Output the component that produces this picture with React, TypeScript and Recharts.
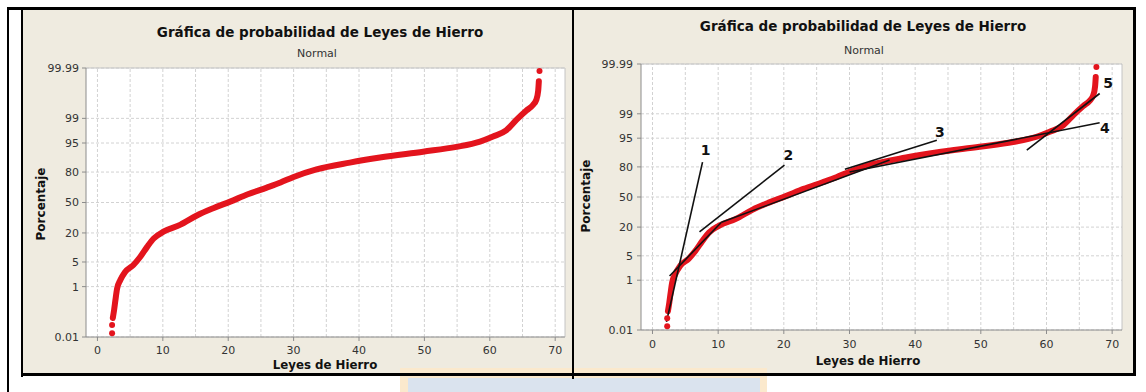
import React from 'react';
import {
  ComposedChart,
  Line,
  Scatter,
  XAxis,
  YAxis,
  CartesianGrid,
  ReferenceLine,
} from 'recharts';

// Curva acumulada de leyes de hierro (tramo continuo)
const leyesBanda = [2.35, 2.55, 2.75, 3.0, 3.5, 4.2, 5.5, 6.5, 7.6, 8.6, 10.1, 12.7, 15.2, 17.8, 20.3, 23.0, 25.9, 28.0, 30.0, 33.5, 38.6, 43.2, 49.8, 54.9, 58.5, 60.5, 62.5, 64.1, 65.6, 66.6, 67.1, 67.4, 67.5];
const pctBanda = [0.07, 0.15, 0.35, 0.85, 1.6, 2.7, 4.2, 6.5, 11, 16, 21, 27, 36, 44, 51, 59, 66, 71, 76, 82, 86.5, 89.3, 92, 93.8, 95.4, 96.6, 97.7, 98.9, 99.45, 99.65, 99.77, 99.9, 99.96];

// Puntos aislados en los extremos de la distribución
const leyesSueltas = [2.24, 2.24, 67.6];
const pctSueltas = [0.015, 0.035, 99.986];

// Escalas
const xTicks = [0, 10, 20, 30, 40, 50, 60, 70];
const xGrid = [0, 5, 10, 15, 20, 25, 30, 35, 40, 45, 50, 55, 60, 65, 70];
const yTicksPct = [0.01, 1, 5, 20, 50, 80, 95, 99, 99.99];
const yTickTexto = ['0.01', '1', '5', '20', '50', '80', '95', '99', '99.99'];

// Rectas tangentes por tramos (ley, porcentaje) inicio -> fin
const tramoLeyIni = [2.13, 2.6, 7.16, 10.5, 29.3, 30.0, 57.0];
const tramoPctIni = [0.024, 1.36, 16.4, 24, 78.2, 75.8, 90.5];
const tramoLeyFin = [7.62, 10.5, 20.1, 36.1, 43.3, 68.1, 68.1];
const tramoPctFin = [83.5, 24, 81.4, 84.9, 94.4, 98.1, 99.81];

// Números de tramo
const etiquetas = ['1', '2', '3', '4', '5'];
const etiquetaLey = [8.1, 20.7, 43.75, 68.9, 69.4];
const etiquetaPct = [90.5, 87.9, 96.5, 97.3, 99.93];

// Inversa de la normal estándar (escala de probabilidad)
function probit(p: number): number {
  const a = [-3.969683028665376e1, 2.209460984245205e2, -2.759285104469687e2, 1.38357751867269e2, -3.066479806614716e1, 2.506628277459239];
  const b = [-5.447609879822406e1, 1.615858368580409e2, -1.556989798598866e2, 6.680131188771972e1, -1.328068155288572e1];
  const c = [-7.784894002430293e-3, -3.223964580411365e-1, -2.400758277161838, -2.549732539343734, 4.374664141464968, 2.938163982698783];
  const d = [7.784695709041462e-3, 3.224671290700398e-1, 2.445134137142996, 3.754408661907416];
  const pl = 0.02425;
  if (p < pl) {
    const q = Math.sqrt(-2 * Math.log(p));
    return (((((c[0] * q + c[1]) * q + c[2]) * q + c[3]) * q + c[4]) * q + c[5]) / ((((d[0] * q + d[1]) * q + d[2]) * q + d[3]) * q + 1);
  }
  if (p > 1 - pl) {
    const q = Math.sqrt(-2 * Math.log(1 - p));
    return -(((((c[0] * q + c[1]) * q + c[2]) * q + c[3]) * q + c[4]) * q + c[5]) / ((((d[0] * q + d[1]) * q + d[2]) * q + d[3]) * q + 1);
  }
  const q = p - 0.5;
  const r = q * q;
  return ((((((a[0] * r + a[1]) * r + a[2]) * r + a[3]) * r + a[4]) * r + a[5]) * q) / (((((b[0] * r + b[1]) * r + b[2]) * r + b[3]) * r + b[4]) * r + 1);
}
const z = (pct: number) => probit(pct / 100);

const banda = leyesBanda.map((x, i) => ({ x, z: z(pctBanda[i]) }));
const sueltos = leyesSueltas.map((x, i) => ({ x, z: z(pctSueltas[i]) }));
const yTicks = yTicksPct.map(z);
const tramos = tramoLeyIni.map((x, i) => [
  { x, y: z(tramoPctIni[i]) },
  { x: tramoLeyFin[i], y: z(tramoPctFin[i]) },
]);
const numeros = etiquetas.map((t, i) => ({ x: etiquetaLey[i], z: z(etiquetaPct[i]), t }));

const X_MIN = -1.75;
const X_MAX = 71.5;
const Z_MIN = z(0.01);
const Z_MAX = z(99.99);

const ROJO = '#e3141d';
const BEIGE = '#efebe0';
const FUENTE = '"DejaVu Sans", Verdana, sans-serif';

const tickTexto = (v: number) => {
  let best = 0;
  yTicks.forEach((t, i) => {
    if (Math.abs(t - v) < Math.abs(yTicks[best] - v)) best = i;
  });
  return yTickTexto[best];
};

type PanelProps = {
  left: number;
  top: number;
  width: number;
  height: number;
  margin: { top: number; right: number; bottom: number; left: number };
  yAxisWidth: number;
  xAxisHeight: number;
  tickMarginX: number;
  tickMarginY: number;
  anotado: boolean;
};

function Panel(p: PanelProps) {
  const tickStyle = { fill: '#333333', fontSize: 11, fontFamily: FUENTE };
  return (
    <div style={{ position: 'absolute', left: p.left, top: p.top }}>
      <ComposedChart width={p.width} height={p.height} margin={p.margin}>
        <CartesianGrid vertical={false} stroke="#d2d2d2" strokeDasharray="3 2" fill="#ffffff" />
        {xGrid.map((v) => (
          <ReferenceLine key={'g' + v} x={v} stroke="#d2d2d2" strokeDasharray="3 2" />
        ))}
        <ReferenceLine y={Z_MAX} stroke="#c4c4c4" />
        <ReferenceLine x={X_MAX} stroke="#c4c4c4" />
        <XAxis
          type="number"
          dataKey="x"
          domain={[X_MIN, X_MAX]}
          ticks={xTicks}
          interval={0}
          allowDataOverflow
          height={p.xAxisHeight}
          stroke="#8c8c8c"
          tickSize={4}
          tickMargin={p.tickMarginX}
          tick={tickStyle}
        />
        <YAxis
          type="number"
          dataKey="z"
          domain={[Z_MIN, Z_MAX]}
          ticks={yTicks}
          interval={0}
          allowDataOverflow
          width={p.yAxisWidth}
          stroke="#8c8c8c"
          tickSize={4}
          tickMargin={p.tickMarginY}
          tick={tickStyle}
          tickFormatter={tickTexto}
        />
        <Line
          data={banda}
          dataKey="z"
          type="monotoneX"
          stroke={ROJO}
          strokeWidth={6}
          strokeLinecap="round"
          strokeLinejoin="round"
          dot={false}
          activeDot={false}
          isAnimationActive={false}
        />
        <Scatter
          data={sueltos}
          dataKey="z"
          isAnimationActive={false}
          shape={(s: any) => <circle cx={s.cx} cy={s.cy} r={3} fill={ROJO} />}
        />
        {p.anotado &&
          tramos.map((seg, i) => (
            <ReferenceLine key={'t' + i} segment={seg} stroke="#111111" strokeWidth={1.6} />
          ))}
        {p.anotado && (
          <Scatter
            data={numeros}
            dataKey="z"
            isAnimationActive={false}
            shape={(s: any) => (
              <text
                x={s.cx}
                y={s.cy}
                textAnchor="middle"
                dominantBaseline="central"
                fontFamily={FUENTE}
                fontWeight={700}
                fontSize={14}
                fill="#111111"
              >
                {s.payload.t}
              </text>
            )}
          />
        )}
      </ComposedChart>
    </div>
  );
}

function Texto(props: { x: number; y: number; size: number; bold?: boolean; color?: string; rotate?: number; children: React.ReactNode }) {
  const { x, y, size, bold, color, rotate, children } = props;
  return (
    <div
      style={{
        position: 'absolute',
        left: x,
        top: y,
        transform: `translate(-50%, -50%)${rotate ? ` rotate(${rotate}deg)` : ''}`,
        fontFamily: FUENTE,
        fontSize: size,
        fontWeight: bold ? 700 : 400,
        color: color || '#111',
        whiteSpace: 'nowrap',
        lineHeight: 1,
      }}
    >
      {children}
    </div>
  );
}

function Barra(props: { x: number; y: number; w: number; h: number; color?: string }) {
  return (
    <div
      style={{
        position: 'absolute',
        left: props.x,
        top: props.y,
        width: props.w,
        height: props.h,
        background: props.color || '#000',
      }}
    />
  );
}

export default function App() {
  const titulo = 'Gráfica de probabilidad de Leyes de Hierro';
  return (
    <div style={{ position: 'absolute', left: 0, top: 0, width: 1146, height: 392, background: '#fff', overflow: 'hidden' }}>
      {/* fondos de los dos paneles */}
      <Barra x={22} y={9} w={551} h={366} color={BEIGE} />
      <Barra x={573} y={9} w={561} h={366} color={BEIGE} />

      <Panel
        left={22}
        top={11}
        width={550}
        height={362}
        margin={{ top: 57, right: 7, bottom: 0, left: 0 }}
        yAxisWidth={64}
        xAxisHeight={36}
        tickMarginX={5}
        tickMarginY={3}
        anotado={false}
      />
      <Panel
        left={575}
        top={11}
        width={558}
        height={362}
        margin={{ top: 53, right: 11, bottom: 0, left: 0 }}
        yAxisWidth={66}
        xAxisHeight={43}
        tickMarginX={6}
        tickMarginY={4}
        anotado={true}
      />

      <Texto x={320} y={33} size={13.5} bold>{titulo}</Texto>
      <Texto x={317} y={53} size={11} color="#333">Normal</Texto>
      <Texto x={325} y={366} size={11.8} bold>Leyes de Hierro</Texto>
      <Texto x={41} y={204} size={12} bold rotate={-90}>Porcentaje</Texto>

      <Texto x={863} y={27} size={13.5} bold>{titulo}</Texto>
      <Texto x={864} y={50} size={11} color="#333">Normal</Texto>
      <Texto x={868} y={362} size={11.8} bold>Leyes de Hierro</Texto>
      <Texto x={586} y={196} size={12} bold rotate={-90}>Porcentaje</Texto>

      {/* recuadro inferior */}
      <div
        style={{
          position: 'absolute',
          left: 400,
          top: 368,
          width: 367,
          height: 30,
          boxSizing: 'border-box',
          background: '#dae3ee',
          borderTop: '10px solid #fbe9cd',
          borderLeft: '8px solid #fbe9cd',
          borderRight: '7px solid #fbe9cd',
        }}
      />

      {/* marcos */}
      <Barra x={7} y={7} w={1129} h={3} />
      <Barra x={7} y={7} w={2} h={385} />
      <Barra x={21} y={7} w={2} h={370} />
      <Barra x={21} y={373} w={1115} h={3} />
      <Barra x={572} y={7} w={2} h={372} />
      <Barra x={1133} y={7} w={3} h={369} />
    </div>
  );
}
